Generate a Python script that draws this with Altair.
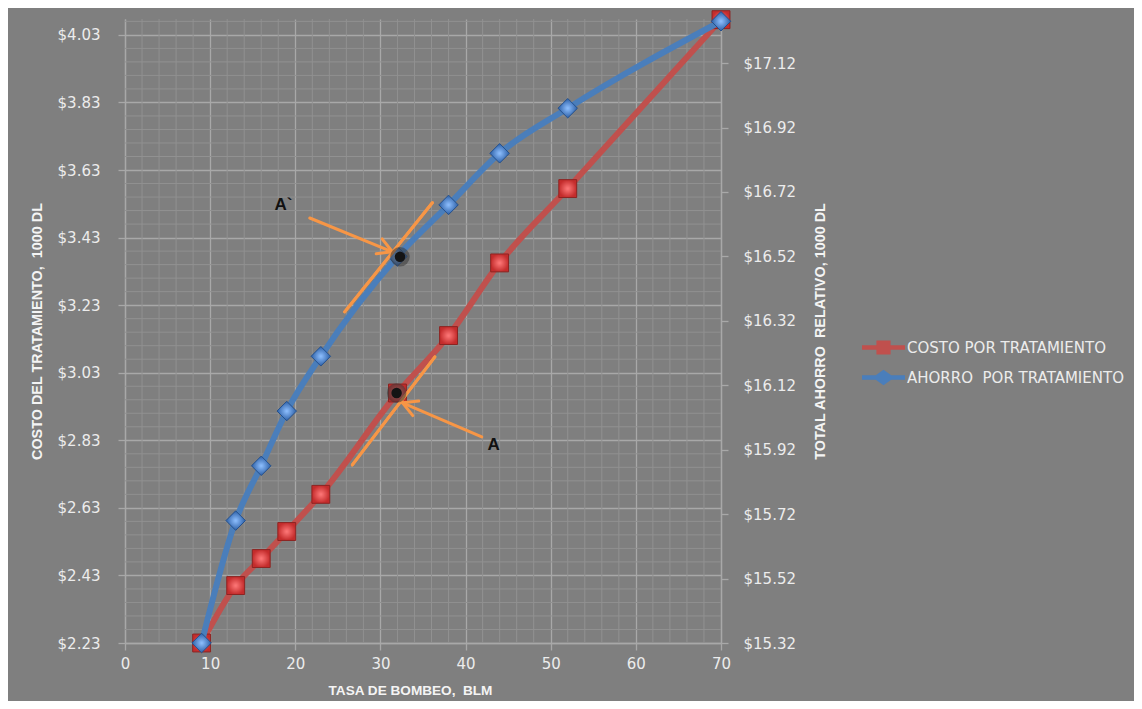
import altair as alt
import pandas as pd

# ---------------- data ----------------
tasa = [9, 13, 16, 19, 23, 32, 38, 44, 52, 70]
costo = [2.23, 2.40, 2.48, 2.56, 2.67, 2.97, 3.14, 3.355, 3.575, 4.075]
ahorro = [15.32, 15.70, 15.87, 16.04, 16.21, 16.52, 16.68, 16.84, 16.98, 17.25]

x_ticks = [0, 10, 20, 30, 40, 50, 60, 70]
left_ticks = [2.23, 2.43, 2.63, 2.83, 3.03, 3.23, 3.43, 3.63, 3.83, 4.03]
right_ticks = [15.32, 15.52, 15.72, 15.92, 16.12, 16.32, 16.52, 16.72, 16.92, 17.12]
left_domain = [2.23, 4.077]
right_domain = [15.32, 17.257]

series_names = ["COSTO POR TRATAMIENTO", "AHORRO\u00a0 POR TRATAMIENTO"]

# annotation segments (data units, left axis)
seg_x = [25.8, 36.1, 21.7, 30.2, 29.5, 26.7, 36.4, 41.9, 33.8, 34.5]
seg_y = [3.210, 3.533, 3.488, 3.426, 3.382, 2.757, 3.077, 2.840, 2.903, 2.946]
seg_x2 = [36.1, 25.8, 31.4, 31.4, 31.4, 36.4, 26.7, 32.6, 32.6, 32.6]
seg_y2 = [3.533, 3.210, 3.388, 3.388, 3.388, 3.077, 2.757, 2.941, 2.941, 2.941]
dot_x = [32.3, 31.9]
dot_y = [3.373, 2.970]
label_text = ["A`", "A"]
label_x = [18.6, 43.3]
label_y = [3.527, 2.816]

# minor grid positions
minor_x = [v for v in range(2, 70, 2) if v % 10]
minor_y = [round(2.23 + 0.04 * i, 2) for i in range(1, 47) if i % 5]

# ---------------- styles ----------------
BG = "#7f7f7f"
PLOT_BG = "#868686"
MAJOR = "#a8a8a8"
MINOR = "#919191"
LABEL = "#ececec"
TITLE = "#f4f4f4"
RED = "#C0504D"
BLUE = "#4A7EBB"
ORANGE = "#F79646"
TICK_FONT = "DejaVu Sans"
TITLE_FONT = "Liberation Sans"

W, H = 596, 624

xs = alt.Scale(domain=[0, 70], nice=False, zero=False)
yl = alt.Scale(domain=left_domain, nice=False, zero=False)
yr = alt.Scale(domain=right_domain, nice=False, zero=False)

main_df = pd.DataFrame({"tasa": tasa, "costo": costo, "ahorro": ahorro})

x_axis = alt.Axis(
    orient="bottom", values=x_ticks, title="TASA DE BOMBEO,\u00a0 BLM", grid=True, gridColor=MAJOR,
    gridWidth=1.3, domainColor=MAJOR, domainWidth=1.3, tickColor=MAJOR, tickSize=7, tickWidth=1.3,
    labelFont=TICK_FONT, labelFontSize=15, labelColor=LABEL, labelPadding=6, labelFlush=False,
    labelOverlap=False,
    titleFont=TITLE_FONT, titleFontSize=13.6, titleFontWeight="bold", titleColor=TITLE,
    titleX=285, titleY=47, titleBaseline="middle", titleAlign="center",
)
left_axis = alt.Axis(
    orient="left", values=left_ticks, format="$.2f", title="COSTO DEL TRATAMIENTO,\u00a0 1000 DL",
    grid=True, gridColor=MAJOR, gridWidth=1.3, domainColor=MAJOR, domainWidth=1.3,
    tickColor=MAJOR, tickSize=7, tickWidth=1.3, labelFlush=False, labelOverlap=False,
    labelFont=TICK_FONT, labelFontSize=15, labelColor=LABEL, labelPadding=18,
    titleFont=TITLE_FONT, titleFontSize=14.4, titleFontWeight="bold", titleColor=TITLE,
    titleX=-88, titleY=H / 2, titleAngle=270, titleBaseline="middle", titleAlign="center",
)
right_axis = alt.Axis(
    orient="right", values=right_ticks, format="$.2f", title="TOTAL AHORRO\u00a0 RELATIVO, 1000 DL",
    grid=False, domainColor=MAJOR, domainWidth=1.3, tickColor=MAJOR, tickSize=7, tickWidth=1.3,
    labelFlush=False, labelOverlap=False,
    labelFont=TICK_FONT, labelFontSize=15, labelColor=LABEL, labelPadding=15,
    titleFont=TITLE_FONT, titleFontSize=14.4, titleFontWeight="bold", titleColor=TITLE,
    titleX=99, titleY=H / 2, titleAngle=270, titleBaseline="middle", titleAlign="center",
)

X = lambda f: alt.X(f, scale=xs, axis=x_axis)

# minor grid
grid_v = alt.Chart(pd.DataFrame({"gx": minor_x})).mark_rule(color=MINOR, strokeWidth=1).encode(
    x=X("gx:Q")
)
grid_h = alt.Chart(pd.DataFrame({"gy": minor_y})).mark_rule(color=MINOR, strokeWidth=1).encode(
    y=alt.Y("gy:Q", scale=yl, axis=None)
)
grid_group = alt.layer(grid_v, grid_h)

red_fill = {"gradient": "radial", "stops": [{"offset": 0, "color": "#ff7a7a"}, {"offset": 1, "color": "#c42c2c"}]}
blue_fill = {"gradient": "radial", "stops": [{"offset": 0, "color": "#8fc0ff"}, {"offset": 1, "color": "#2c5fa6"}]}

base = alt.Chart(main_df)
red_line = base.mark_line(color=RED, strokeWidth=6, interpolate="monotone").encode(
    x=X("tasa:Q"),
    y=alt.Y("costo:Q", scale=yl, axis=left_axis),
)
red_pts = base.mark_point(shape="square", size=320, filled=True, fill=red_fill, opacity=1,
                          stroke="#8c2422", strokeWidth=1).encode(
    x=X("tasa:Q"),
    y=alt.Y("costo:Q", scale=yl, axis=left_axis),
)
red_group = alt.layer(red_line, red_pts)

blue_line = base.mark_line(color=BLUE, strokeWidth=6, interpolate="monotone").encode(
    x=X("tasa:Q"),
    y=alt.Y("ahorro:Q", scale=yr, axis=right_axis),
)
blue_pts = base.mark_point(shape="diamond", size=380, filled=True, fill=blue_fill, opacity=1,
                           stroke="#24508c", strokeWidth=1).encode(
    x=X("tasa:Q"),
    y=alt.Y("ahorro:Q", scale=yr, axis=right_axis),
)
blue_group = alt.layer(blue_line, blue_pts)

seg_df = pd.DataFrame({"x": seg_x, "y": seg_y, "x2": seg_x2, "y2": seg_y2})
segs = alt.Chart(seg_df).mark_rule(color=ORANGE, strokeWidth=3, strokeCap="round").encode(
    x=X("x:Q"),
    y=alt.Y("y:Q", scale=yl, axis=None),
    x2="x2:Q", y2="y2:Q",
)
dot_df = pd.DataFrame({"x": dot_x, "y": dot_y})
halo = alt.Chart(dot_df).mark_circle(size=380, color="#3a3a3a", opacity=0.55).encode(
    x=X("x:Q"), y=alt.Y("y:Q", scale=yl, axis=None)
)
dots = alt.Chart(dot_df).mark_circle(size=110, color="#141414", opacity=1).encode(
    x=X("x:Q"), y=alt.Y("y:Q", scale=yl, axis=None)
)
lab_df = pd.DataFrame({"x": label_x, "y": label_y, "t": label_text})
labels = alt.Chart(lab_df).mark_text(font="Liberation Sans", fontSize=17, fontWeight="bold",
                                     color="#111111").encode(
    x=X("x:Q"), y=alt.Y("y:Q", scale=yl, axis=None), text="t:N"
)
annot_group = alt.layer(segs, halo, dots, labels)

SQ = ("M-1,-0.11L-0.33,-0.11L-0.33,-0.33L0.33,-0.33L0.33,-0.11L1,-0.11L1,0.11"
      "L0.33,0.11L0.33,0.33L-0.33,0.33L-0.33,0.11L-1,0.11Z")
DM = ("M-1,-0.11L-0.36,-0.11L0,-0.36L0.36,-0.11L1,-0.11L1,0.11L0.36,0.11L0,0.36"
      "L-0.36,0.11L-1,0.11Z")
leg_df = pd.DataFrame({"serie": series_names})
legend_layer = alt.Chart(leg_df).mark_point(filled=True, opacity=0).encode(
    color=alt.Color("serie:N", scale=alt.Scale(domain=series_names, range=[RED, BLUE]),
                    legend=alt.Legend(title=None, orient="none", legendX=737, legendY=307,
                                      symbolSize=1849, symbolOpacity=1, symbolStrokeWidth=0,
                                      labelFont=TICK_FONT, labelFontSize=15, labelColor=LABEL,
                                      labelOffset=2, rowPadding=0, labelLimit=0)),
    shape=alt.Shape("serie:N", scale=alt.Scale(domain=series_names, range=[SQ, DM]), legend=None),
)

chart = alt.layer(grid_group, red_group, blue_group, annot_group, legend_layer).resolve_scale(
    y="independent"
).properties(
    width=W, height=H,
    autosize=alt.AutoSizeParams(type="none"),
    padding={"left": 117, "top": 11, "right": 413, "bottom": 58},
    background=BG,
).configure_view(fill=PLOT_BG, stroke=None)

chart.save("out.html", embed_options={"renderer": "svg", "actions": False})
